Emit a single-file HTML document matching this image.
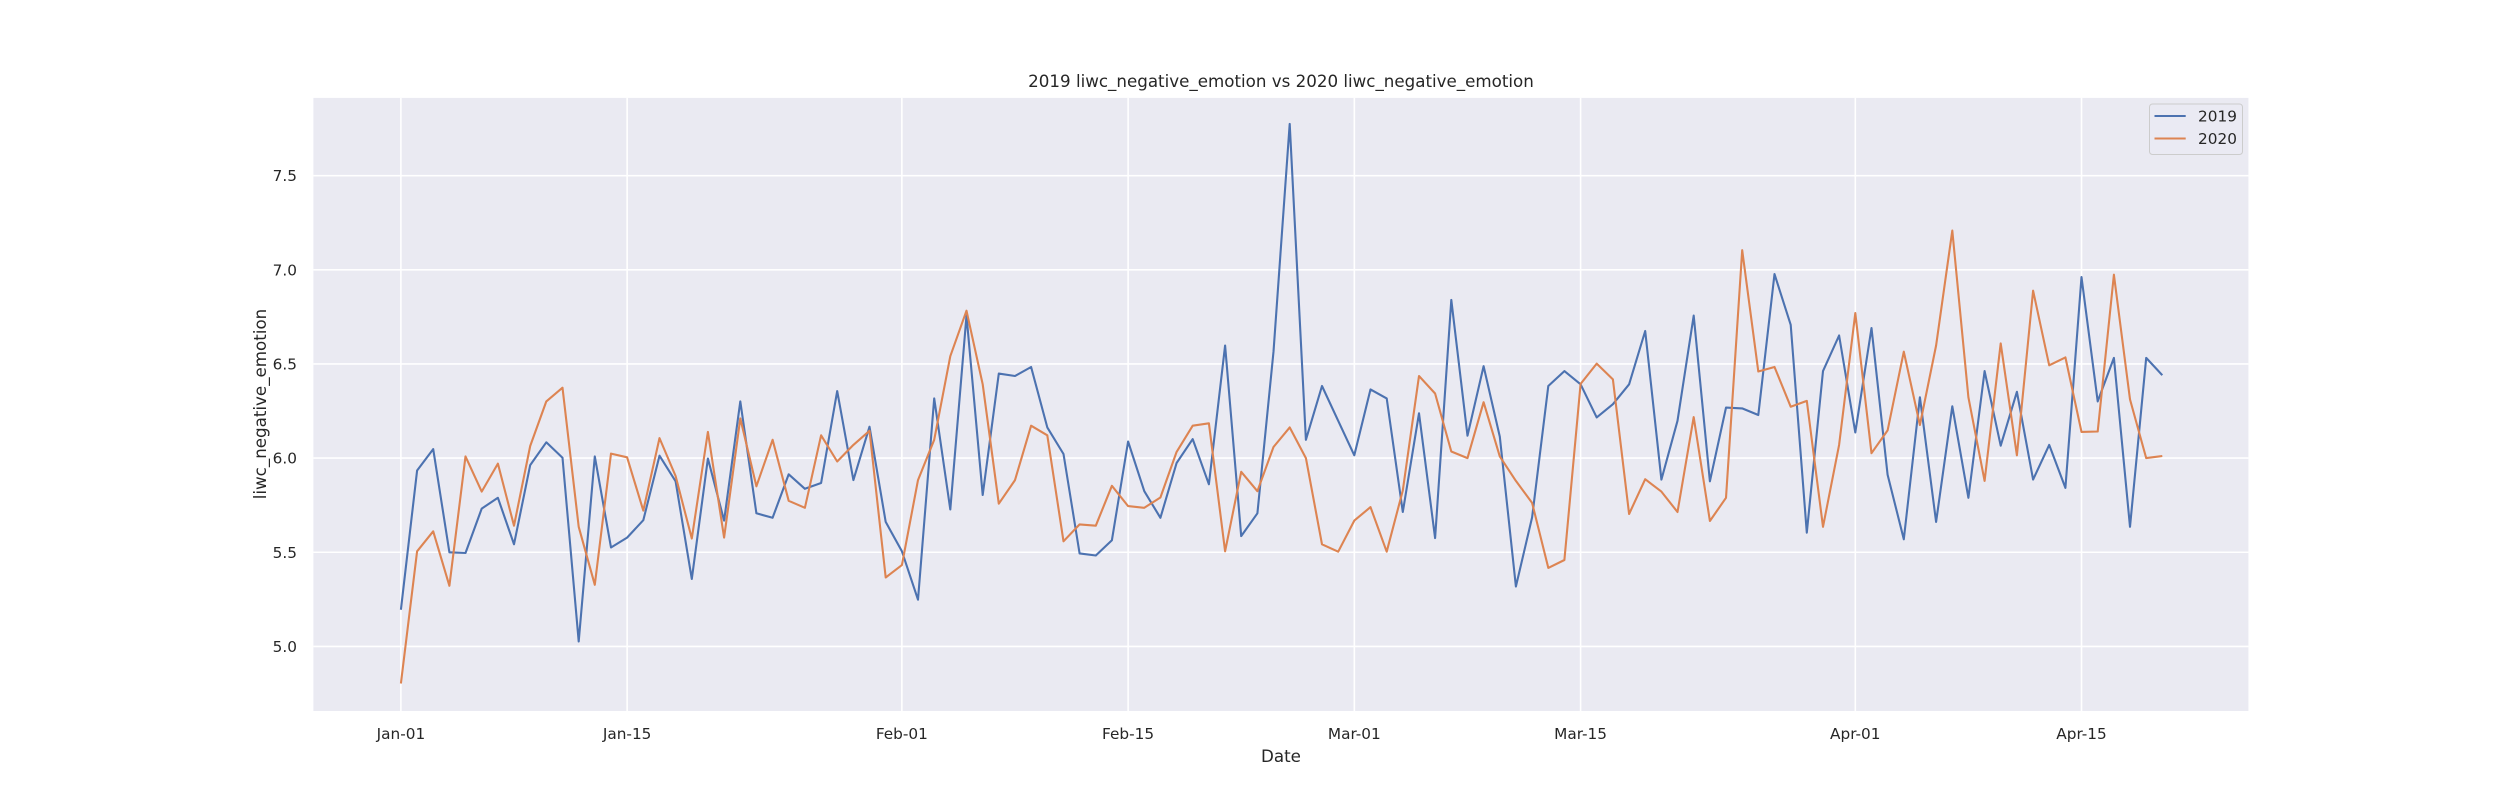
<!DOCTYPE html>
<html><head><meta charset="utf-8"><style>
html,body{margin:0;padding:0;background:#fff;}
svg text{font-family:"DejaVu Sans","Liberation Sans",sans-serif;fill:#262626;}
</style></head><body>
<svg id="chart" width="2500" height="800" xmlns="http://www.w3.org/2000/svg">
<rect x="313.4" y="97.9" width="1935" height="613.1" fill="#eaeaf2"/>
<g id="grid"></g>
<g id="series"></g>
<g id="xticks"></g>
<g id="yticks"></g>
<text x="1281" y="87" font-size="16.7" text-anchor="middle">2019 liwc_negative_emotion vs 2020 liwc_negative_emotion</text>
<text x="1281" y="762" font-size="16.7" text-anchor="middle">Date</text>
<text x="0" y="0" font-size="16.7" text-anchor="middle" transform="translate(266,404) rotate(-90)">liwc_negative_emotion</text>
<g>
<rect x="2149.5" y="104" width="93" height="50.5" rx="3" fill="#eaeaf2" fill-opacity="0.8" stroke="#cccccc" stroke-width="1"/>
<line x1="2154.5" y1="116" x2="2185.7" y2="116" stroke="#4c72b0" stroke-width="2.1"/>
<text x="2198" y="121.5" font-size="15.3">2019</text>
<line x1="2154.5" y1="138.5" x2="2185.7" y2="138.5" stroke="#dd8452" stroke-width="2.1"/>
<text x="2198" y="144" font-size="15.3">2020</text>
</g>
</svg>
<script>
const values2019 = [5.195,5.934,6.048,5.50,5.496,5.732,5.789,5.542,5.963,6.084,6.002,5.026,6.009,5.525,5.578,5.670,6.013,5.877,5.358,5.998,5.668,6.301,5.707,5.683,5.914,5.837,5.868,6.356,5.883,6.167,5.661,5.505,5.248,6.317,5.727,6.757,5.804,6.449,
6.436,6.484,6.163,6.022,5.494,5.483,5.564,6.088,5.824,5.683,5.974,6.101,5.861,6.598,5.586,5.707,6.565,7.775,6.097,6.383,6.198,6.015,6.365,6.317,5.714,6.238,5.575,6.840,6.119,6.488,6.114,5.318,5.685,6.383,6.462,6.392,6.216,6.286,6.392,6.675,
5.886,6.198,6.757,5.877,6.268,6.264,6.229,6.977,6.708,5.604,6.462,6.651,6.136,6.691,5.912,5.569,6.323,5.661,6.275,5.789,6.462,6.066,6.352,5.886,6.070,5.842,6.961,6.301,6.532,5.635,6.532,6.440];
const values2020 = [4.803,5.505,5.611,5.322,6.009,5.822,5.971,5.641,6.064,6.301,6.374,5.635,5.327,6.024,6.004,5.721,6.106,5.905,5.573,6.139,5.578,6.211,5.850,6.097,5.773,5.736,6.121,5.982,6.070,6.145,5.366,5.432,5.883,6.097,6.541,6.783,6.392,5.758,
5.883,6.172,6.121,5.558,5.648,5.641,5.853,5.745,5.736,5.791,6.033,6.172,6.185,5.505,5.927,5.824,6.059,6.163,6.0,5.542,5.503,5.668,5.740,5.503,5.828,6.436,6.343,6.035,6.0,6.297,6.009,5.879,5.762,5.417,5.459,6.394,6.502,6.418,5.703,5.888,
5.822,5.714,6.218,5.666,5.789,7.104,6.460,6.484,6.273,6.304,5.635,6.070,6.770,6.026,6.147,6.565,6.176,6.598,7.208,6.323,5.879,6.609,6.015,6.889,6.493,6.535,6.139,6.141,6.974,6.312,6.0,6.011];
const xTickDays = [0,14,31,45,59,73,90,104];
const xTickLabels = ["Jan-01","Jan-15","Feb-01","Feb-15","Mar-01","Mar-15","Apr-01","Apr-15"];
const yTickValues = [5.0,5.5,6.0,6.5,7.0,7.5];
const yTickLabels = ["5.0","5.5","6.0","6.5","7.0","7.5"];

const NS = "http://www.w3.org/2000/svg";
const PL = 313.4, PR = 2248.4, PT = 97.9, PB = 711;
function xScale(d){ return 400.9 + d * 16.16; }
function yScale(v){ return 458.1 - (v - 6) * 188.3; }
function mk(tag, attrs, parent){ const e = document.createElementNS(NS, tag); for (const k in attrs) e.setAttribute(k, attrs[k]); parent.appendChild(e); return e; }

const grid = document.getElementById('grid');
const xt = document.getElementById('xticks');
const yt = document.getElementById('yticks');
xTickDays.forEach((d, i) => {
  const x = xScale(d);
  const l = mk('line', {x1:x, x2:x, y1:PT, y2:PB, stroke:'#fff', 'stroke-width':1.6}, grid);
  
  
  const t = mk('text', {x:x, y:739, 'font-size':15.3, 'text-anchor':'middle'}, xt);
  t.textContent = xTickLabels[i];
  
  
});
yTickValues.forEach((v, i) => {
  const y = yScale(v);
  const l = mk('line', {x1:PL, x2:PR, y1:y, y2:y, stroke:'#fff', 'stroke-width':1.6}, grid);
  
  
  const t = mk('text', {x:297, y:y + 5.5, 'font-size':15.3, 'text-anchor':'end'}, yt);
  t.textContent = yTickLabels[i];
  
  
});
const series = document.getElementById('series');
function drawLine(vals, color, name){
  const pts = vals.map((v, i) => xScale(i).toFixed(1) + ',' + yScale(v).toFixed(1)).join(' ');
  const p = mk('polyline', {points:pts, fill:'none', stroke:color, 'stroke-width':2.1, 'stroke-linejoin':'round'}, series);
  
  
}
drawLine(values2019, '#4c72b0', 'line-2019');
drawLine(values2020, '#dd8452', 'line-2020');
</script>
</body></html>
